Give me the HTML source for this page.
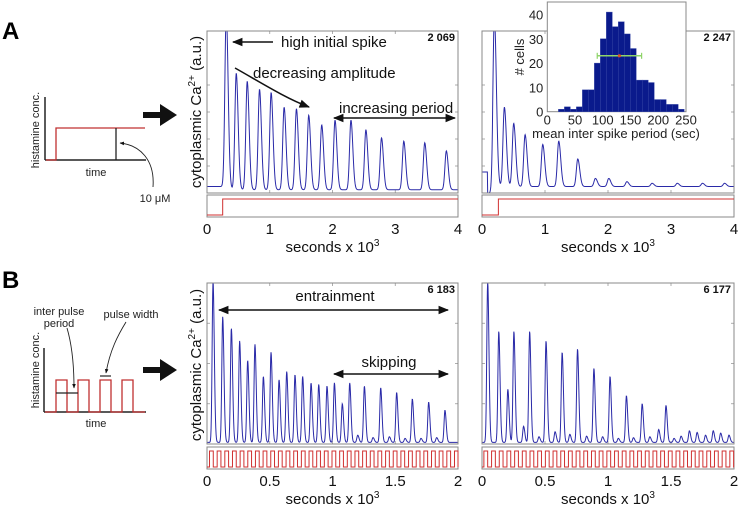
<!DOCTYPE html>
<html><head><meta charset="utf-8"><style>
html,body{margin:0;padding:0;background:#fff}
svg{display:block;font-family:"Liberation Sans",sans-serif}
</style></head><body>
<svg id="fig" width="740" height="509" viewBox="0 0 740 509" xmlns="http://www.w3.org/2000/svg">
<defs>
<marker id="ah" viewBox="0 0 10 10" refX="9" refY="5" markerWidth="7" markerHeight="7" orient="auto-start-reverse"><path d="M0,1 L10,5 L0,9 z" fill="#111"/></marker>
<marker id="ahs" viewBox="0 0 10 10" refX="9" refY="5" markerWidth="5" markerHeight="5" orient="auto-start-reverse"><path d="M0,1 L10,5 L0,9 z" fill="#111"/></marker>
</defs>
<!-- Panel labels -->
<text x="2" y="39" font-size="24" font-weight="bold">A</text>
<text x="2" y="288" font-size="24" font-weight="bold">B</text>

<!-- Schematic A -->
<g>
<line x1="45" y1="97" x2="45" y2="160" stroke="#222" stroke-width="1.5"/>
<line x1="45" y1="160" x2="146" y2="160" stroke="#222" stroke-width="1.5"/>
<polyline points="46,160 56,160 56,128 145,128" fill="none" stroke="#c03030" stroke-width="1.3"/>
<line x1="116" y1="128" x2="116" y2="160" stroke="#222" stroke-width="1.3"/>
<text transform="translate(39,130) rotate(-90)" font-size="11" text-anchor="middle" fill="#222">histamine conc.</text>
<text x="96" y="176" font-size="11" text-anchor="middle" fill="#222">time</text>
<text x="155" y="202" font-size="11" text-anchor="middle" fill="#222">10 μM</text>
<path d="M153,187 C155,160 140,145 120,143" fill="none" stroke="#222" stroke-width="0.9" marker-end="url(#ahs)"/>
<path d="M143,112 L160,112 L160,104 L177,115 L160,126 L160,118 L143,118 z" fill="#111"/>
</g>

<!-- Schematic B -->
<g>
<line x1="44" y1="348" x2="44" y2="412" stroke="#222" stroke-width="1.5"/>
<line x1="44" y1="412" x2="146" y2="412" stroke="#222" stroke-width="1.5"/>
<polyline points="45,412 56,412 56,380 67,380 67,412 78,412 78,380 89,380 89,412 100,412 100,380 111,380 111,412 122,412 122,380 133,380 133,412 145,412" fill="none" stroke="#c03030" stroke-width="1.3"/>
<line x1="56" y1="393" x2="78" y2="393" stroke="#222" stroke-width="1.2"/>
<line x1="100" y1="376" x2="111" y2="376" stroke="#222" stroke-width="1.2"/>
<text transform="translate(39,370) rotate(-90)" font-size="11" text-anchor="middle" fill="#222">histamine conc.</text>
<text x="96" y="427" font-size="11" text-anchor="middle" fill="#222">time</text>
<text x="59" y="315" font-size="11" text-anchor="middle" fill="#222">inter pulse</text>
<text x="59" y="327" font-size="11" text-anchor="middle" fill="#222">period</text>
<text x="131" y="318" font-size="11" text-anchor="middle" fill="#222">pulse width</text>
<path d="M67,328 C72,345 74,365 74,388" fill="none" stroke="#222" stroke-width="0.9" marker-end="url(#ahs)"/>
<path d="M126,322 C118,335 110,350 106,373" fill="none" stroke="#222" stroke-width="0.9" marker-end="url(#ahs)"/>
<path d="M143,367 L160,367 L160,359 L177,370 L160,381 L160,373 L143,373 z" fill="#111"/>
</g>

<text transform="translate(201,112) rotate(-90)" font-size="15" text-anchor="middle" fill="#111">cytoplasmic Ca<tspan font-size="10" dy="-6">2+</tspan><tspan dy="6"> (a.u.)</tspan></text>
<text transform="translate(201,365) rotate(-90)" font-size="15" text-anchor="middle" fill="#111">cytoplasmic Ca<tspan font-size="10" dy="-6">2+</tspan><tspan dy="6"> (a.u.)</tspan></text>

<g id="plots"></g>

<!-- annotations A -->
<g font-size="15" fill="#111">
<line x1="273" y1="42" x2="233" y2="42" stroke="#111" stroke-width="1.5" marker-end="url(#ah)"/>
<text x="281" y="47">high initial spike</text>
<text x="253" y="78">decreasing amplitude</text>
<path d="M235,68 C260,82 285,98 309,107" fill="none" stroke="#111" stroke-width="1.5" marker-end="url(#ah)"/>
<text x="339" y="113">increasing period</text>
<line x1="334" y1="118" x2="455" y2="118" stroke="#111" stroke-width="1.5" marker-start="url(#ah)" marker-end="url(#ah)"/>
</g>
<g font-size="15" fill="#111">
<text x="335" y="301" text-anchor="middle">entrainment</text>
<line x1="219" y1="310" x2="448" y2="310" stroke="#111" stroke-width="1.5" marker-start="url(#ah)" marker-end="url(#ah)"/>
<text x="389" y="367" text-anchor="middle">skipping</text>
<line x1="334" y1="374" x2="448" y2="374" stroke="#111" stroke-width="1.5" marker-start="url(#ah)" marker-end="url(#ah)"/>
</g>
<g id="inset"></g>
</svg>
<script>
// ---- data ----
const aLeftPeakTimes=[307,466,641,837,1022,1229,1425,1621,1828,2040,2294,2532,2781,3136,3470,3814];
const aLeftPeakHeights=[1.08,0.72,0.67,0.62,0.60,0.51,0.50,0.46,0.40,0.43,0.43,0.37,0.32,0.30,0.29,0.24];
const aRightPeakTimes=[196,355,503,684,964,1218,1520,1800,2012,2300,2700,3100,3500,3850];
const aRightPeakHeights=[1.05,0.49,0.39,0.32,0.26,0.28,0.17,0.05,0.05,0.03,0.02,0.02,0.02,0.02];
const bLeftPeakTimes=[48,125,194,260,324,382,449,510,574,635,701,762,829,890,956,1015,1078,1137,1201,1254,1323,1384,1453,1511,1578,1636,1705,1766,1830,1896];
const bLeftPeakHeights=[1.0,0.78,0.71,0.63,0.51,0.61,0.41,0.56,0.39,0.44,0.42,0.41,0.37,0.36,0.35,0.37,0.24,0.37,0.045,0.35,0.03,0.34,0.035,0.31,0.025,0.27,0.025,0.25,0.03,0.20];
const bRightPeakTimes=[45,133,205,253,330,378,452,508,580,636,697,758,830,888,957,1016,1082,1146,1202,1271,1332,1402,1460,1524,1580,1646,1707,1774,1835,1894,1960];
const bRightPeakHeights=[1.0,0.69,0.33,0.69,0.10,0.69,0.035,0.63,0.066,0.56,0.05,0.58,0.039,0.46,0.035,0.41,0.025,0.29,0.029,0.24,0.035,0.08,0.23,0.025,0.039,0.072,0.062,0.045,0.072,0.058,0.045];
const aXTicks=[0,1,2,3,4];
const bXTicks=[0,0.5,1,1.5,2];
const histBinStart=[20,30.8,41.6,52.4,63.2,74,84.8,95.6,106.4,117.2,128,138.8,149.6,160.4,171.2,182,192.8,203.6,214.4,225.2,236];
const histCounts=[1,2,1,2,9,9,20,30,41,35,37,32,26,13,13,12,5,5,3,3,1];
const histYTicks=[0,10,20,30,40];
const histXTicks=[0,50,100,150,200,250];
const histMean=130, histSdLow=90, histSdHigh=170, histErrY=23;

const NS="http://www.w3.org/2000/svg";
function mk(tag,attrs,parent){const e=document.createElementNS(NS,tag);for(const k in attrs)e.setAttribute(k,attrs[k]);parent.appendChild(e);return e;}
const plots=document.getElementById('plots');

function panel(opt){
  const g=mk('g',{},plots);
  
  
  const x0=opt.x0,x1=opt.x1,yt=opt.yt,yb=opt.yb;
  const sx=t=>x0+(t/opt.tmax)*(x1-x0);
  const sy=v=>yb-v*(yb-yt);
  const cid='clip'+opt.id;
  const cp=mk('clipPath',{id:cid},g);mk('rect',{x:x0,y:yt,width:x1-x0,height:yb-yt},cp);
  // ticks
  for(let i=1;i<5;i++){const y=yb-i*(yb-yt)/opt.ny;mk('line',{x1:x0,y1:y,x2:x0+3,y2:y,stroke:'#999','stroke-width':0.8},g);mk('line',{x1:x1,y1:y,x2:x1-3,y2:y,stroke:'#999','stroke-width':0.8},g); if(i>=opt.ny-1)break;}
  opt.ticks.forEach(v=>{const x=sx(v*1000);mk('line',{x1:x,y1:yt,x2:x,y2:yt+3,stroke:'#999','stroke-width':0.8},g);mk('line',{x1:x,y1:yb,x2:x,y2:yb-3,stroke:'#999','stroke-width':0.8},g);
    const t=mk('text',{x:x,y:opt.labY,'font-size':15,'text-anchor':'middle',fill:'#111'},g);t.textContent=String(v);
    
    });
  // trace
  let d='';
  for(let t=0;t<=opt.tmax;t+=opt.tmax/800){
    let v=opt.base(t);
    opt.times.forEach((tp,i)=>{const s=t<tp?opt.s1:opt.s2;const z=(t-tp)/s;v+=opt.heights[i]*Math.exp(-0.5*z*z);});
    d+=(d?'L':'M')+sx(t).toFixed(2)+','+sy(v).toFixed(2);
  }
  const tr=mk('path',{d:d,fill:'none',stroke:'#2a2aa8','stroke-width':1,'clip-path':'url(#'+cid+')'},g);
  
  
  mk('rect',{x:x0,y:yt,width:x1-x0,height:yb-yt,fill:'none',stroke:'#888','stroke-width':1},g);
  // stimulus box
  const st=mk('rect',{x:x0,y:opt.sy0,width:x1-x0,height:opt.sy1-opt.sy0,fill:'none',stroke:'#888','stroke-width':1},g);
  
  
  const hi=opt.sy0+4,lo=opt.sy1-2;
  let p='M'+x0+','+lo;
  if(opt.step!=null){p+='L'+sx(opt.step)+','+lo+'L'+sx(opt.step)+','+hi+'L'+x1+','+hi;}
  else{for(let t=opt.pStart;t<opt.tmax;t+=opt.period){const a=sx(t),b=sx(Math.min(t+opt.width,opt.tmax));p+='L'+a+','+lo+'L'+a+','+hi+'L'+b+','+hi+'L'+b+','+lo;}p+='L'+x1+','+lo;}
  const sp=mk('path',{d:p,fill:'none',stroke:'#d03030','stroke-width':1},g);
  
  
  const id=mk('text',{x:x1-3,y:yt+10,'font-size':11,'font-weight':'bold','text-anchor':'end',fill:'#111'},g);id.textContent=opt.label;
  
  
  const xl=mk('text',{x:(x0+x1)/2,y:opt.xlY,'font-size':15,'text-anchor':'middle',fill:'#111'},g);
  xl.innerHTML='seconds x 10<tspan font-size="10" dy="-6">3</tspan>';
  
  
}
panel({id:1,name:'chart-a-left',x0:207,x1:458,yt:31,yb:193,tmax:4000,ny:6,ticks:aXTicks,labY:234,xlY:252,times:aLeftPeakTimes,heights:aLeftPeakHeights,s1:22,s2:30,base:t=>t<300?0.04:0.02,sy0:195,sy1:217,step:250,label:'2 069'});
panel({id:2,name:'chart-a-right',x0:482,x1:734,yt:31,yb:193,tmax:4000,ny:6,ticks:aXTicks,labY:234,xlY:252,times:aRightPeakTimes,heights:aRightPeakHeights,s1:22,s2:32,base:t=>t<90?0.13:(t<170?0.0:0.04),sy0:195,sy1:217,step:260,label:'2 247'});
panel({id:3,name:'chart-b-left',x0:207,x1:458,yt:283,yb:444,tmax:2000,ny:4,ticks:bXTicks,labY:486,xlY:504,times:bLeftPeakTimes,heights:bLeftPeakHeights,s1:7,s2:10,base:t=>0.01,sy0:447,sy1:469,step:null,pStart:20,period:61,width:30,label:'6 183'});
panel({id:4,name:'chart-b-right',x0:482,x1:734,yt:283,yb:444,tmax:2000,ny:4,ticks:bXTicks,labY:486,xlY:504,times:bRightPeakTimes,heights:bRightPeakHeights,s1:7,s2:10,base:t=>0.01,sy0:447,sy1:469,step:null,pStart:15,period:61,width:30,label:'6 177'});

// ---- inset histogram ----
(function(){
  const g=document.getElementById('inset');
  
  
  const L=547.3,R=686,T=2,B=111.7;
  const sx=v=>L+v*(R-L)/250, sy=c=>B-c*2.43;
  mk('rect',{x:L,y:T,width:R-L,height:B-T,fill:'#fff',stroke:'#888','stroke-width':1},g);
  histCounts.forEach((c,i)=>{const a=sx(histBinStart[i]),b=sx(histBinStart[i]+10.8);
    const r=mk('rect',{x:a,y:sy(c),width:b-a,height:B-sy(c),fill:'#0a1a8c',stroke:'#3a4aa8','stroke-width':0.4},g);
    
    });
  mk('line',{x1:sx(histSdLow),y1:sy(histErrY),x2:sx(histSdHigh),y2:sy(histErrY),stroke:'#8fd46a','stroke-width':1.5},g);
  [histSdLow,histSdHigh].forEach(v=>mk('line',{x1:sx(v),y1:sy(histErrY)-3,x2:sx(v),y2:sy(histErrY)+3,stroke:'#8fd46a','stroke-width':1.2},g));
  mk('circle',{cx:sx(histMean),cy:sy(histErrY),r:1.6,fill:'#e05020'},g);
  histYTicks.forEach(v=>{const t=mk('text',{x:L-4,y:sy(v)+5,'font-size':13,'text-anchor':'end',fill:'#222'},g);t.textContent=v;
    
    });
  histXTicks.forEach(v=>{const t=mk('text',{x:sx(v),y:B+13,'font-size':13,'text-anchor':'middle',fill:'#222'},g);t.textContent=v;
    
    });
  const yl=mk('text',{transform:'translate(524,57) rotate(-90)','font-size':13,'text-anchor':'middle',fill:'#222'},g);yl.textContent='# cells';
  
  
  const xl=mk('text',{x:616,y:138,'font-size':13,'text-anchor':'middle',fill:'#222'},g);xl.textContent='mean inter spike period (sec)';
  
  
})();
</script>
</body></html>
